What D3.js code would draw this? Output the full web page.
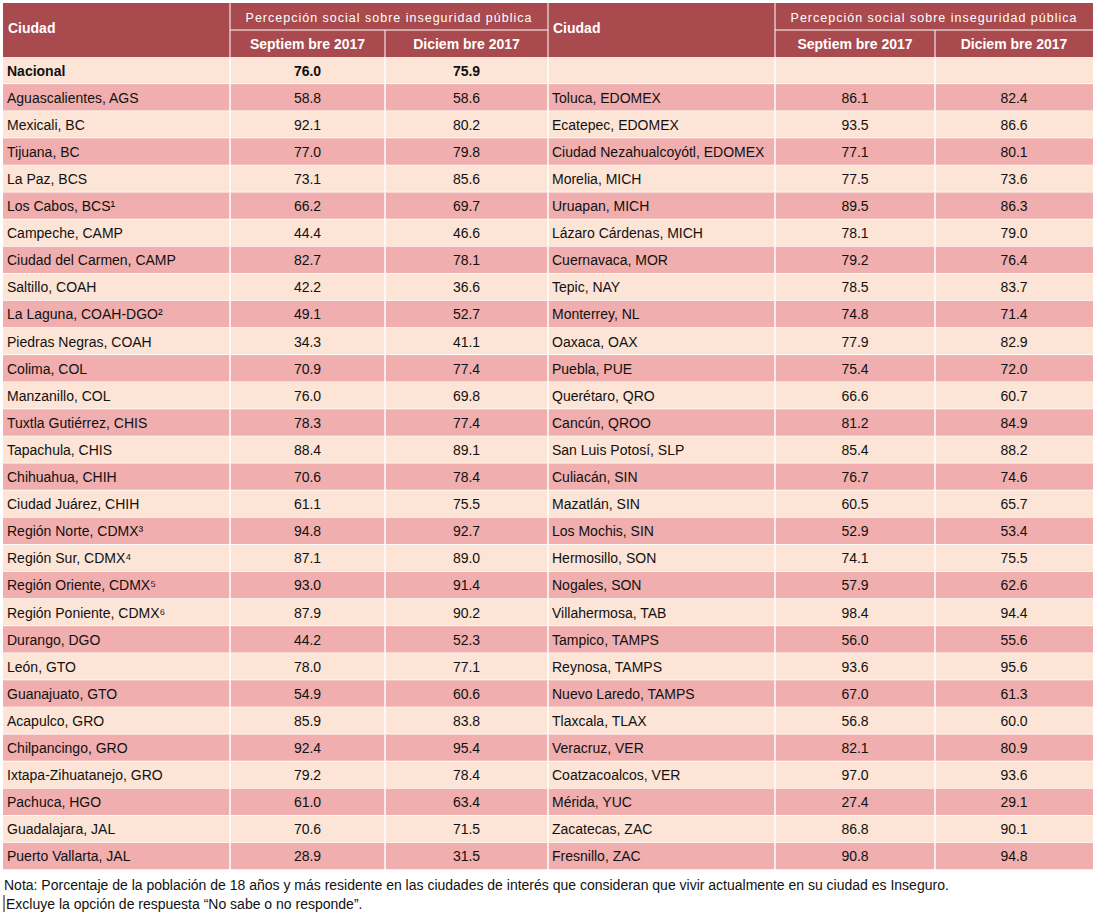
<!DOCTYPE html>
<html><head><meta charset="utf-8">
<script src="https://cdn.jsdelivr.net/npm/d3@7"></script>
<style>body{margin:0;background:#fff;font-family:Arial,"Liberation Sans",sans-serif;}</style>
</head><body><svg id="t" width="1105" height="915"></svg>
<script>
var left = ["Aguascalientes, AGS","Mexicali, BC","Tijuana, BC","La Paz, BCS","Los Cabos, BCS¹","Campeche, CAMP","Ciudad del Carmen, CAMP","Saltillo, COAH","La Laguna, COAH-DGO²","Piedras Negras, COAH","Colima, COL","Manzanillo, COL","Tuxtla Gutiérrez, CHIS","Tapachula, CHIS","Chihuahua, CHIH","Ciudad Juárez, CHIH","Región Norte, CDMX³","Región Sur, CDMX⁴","Región Oriente, CDMX⁵","Región Poniente, CDMX⁶","Durango, DGO","León, GTO","Guanajuato, GTO","Acapulco, GRO","Chilpancingo, GRO","Ixtapa-Zihuatanejo, GRO","Pachuca, HGO","Guadalajara, JAL","Puerto Vallarta, JAL"];
var leftSep = [58.8,92.1,77.0,73.1,66.2,44.4,82.7,42.2,49.1,34.3,70.9,76.0,78.3,88.4,70.6,61.1,94.8,87.1,93.0,87.9,44.2,78.0,54.9,85.9,92.4,79.2,61.0,70.6,28.9];
var leftDic = [58.6,80.2,79.8,85.6,69.7,46.6,78.1,36.6,52.7,41.1,77.4,69.8,77.4,89.1,78.4,75.5,92.7,89.0,91.4,90.2,52.3,77.1,60.6,83.8,95.4,78.4,63.4,71.5,31.5];
var right = ["Toluca, EDOMEX","Ecatepec, EDOMEX","Ciudad Nezahualcoyótl, EDOMEX","Morelia, MICH","Uruapan, MICH","Lázaro Cárdenas, MICH","Cuernavaca, MOR","Tepic, NAY","Monterrey, NL","Oaxaca, OAX","Puebla, PUE","Querétaro, QRO","Cancún, QROO","San Luis Potosí, SLP","Culiacán, SIN","Mazatlán, SIN","Los Mochis, SIN","Hermosillo, SON","Nogales, SON","Villahermosa, TAB","Tampico, TAMPS","Reynosa, TAMPS","Nuevo Laredo, TAMPS","Tlaxcala, TLAX","Veracruz, VER","Coatzacoalcos, VER","Mérida, YUC","Zacatecas, ZAC","Fresnillo, ZAC"];
var rightSep = [86.1,93.5,77.1,77.5,89.5,78.1,79.2,78.5,74.8,77.9,75.4,66.6,81.2,85.4,76.7,60.5,52.9,74.1,57.9,98.4,56.0,93.6,67.0,56.8,82.1,97.0,27.4,86.8,90.8];
var rightDic = [82.4,86.6,80.1,73.6,86.3,79.0,76.4,83.7,71.4,82.9,72.0,60.7,84.9,88.2,74.6,65.7,53.4,75.5,62.6,94.4,55.6,95.6,61.3,60.0,80.9,93.6,29.1,90.1,94.8];
var nacional = [76.0, 75.9];
var header = ["Ciudad","Percepción social sobre inseguridad pública","Septiem bre 2017","Diciem bre 2017"];

var svg = d3.select("#t");
var colX = [3,230,385,548,775,935,1093];
var y = d3.scaleLinear().domain([0,30]).range([57,870]);
var hdr = "#A94A4E", pink = "#F0AEAE", light = "#FCE4D6";

// header
svg.append("rect").attr("x",3).attr("y",3).attr("width",1090).attr("height",54).attr("fill",hdr);
[0,3].forEach(function(o){
  svg.append("text").attr("x",colX[o]+5).attr("y",33).attr("fill","#fff").attr("font-weight","bold").attr("font-size",14).text(header[0]);
  svg.append("text").attr("x",(colX[o+1]+colX[o+3])/2).attr("y",22).attr("text-anchor","middle").attr("fill","#fff").attr("font-size",12.5).attr("letter-spacing",1).text(header[1]);
  svg.append("line").attr("x1",colX[o+1]).attr("x2",colX[o+3]).attr("y1",30).attr("y2",30).attr("stroke","#fff");
  svg.append("line").attr("x1",colX[o+2]).attr("x2",colX[o+2]).attr("y1",30).attr("y2",57).attr("stroke","#fff");
  svg.append("text").attr("x",(colX[o+1]+colX[o+2])/2).attr("y",49).attr("text-anchor","middle").attr("fill","#fff").attr("font-weight","bold").attr("font-size",14).text(header[2]);
  svg.append("text").attr("x",(colX[o+2]+colX[o+3])/2).attr("y",49).attr("text-anchor","middle").attr("fill","#fff").attr("font-weight","bold").attr("font-size",14).text(header[3]);
});
svg.append("line").attr("x1",548).attr("x2",548).attr("y1",3).attr("y2",57).attr("stroke","#fff");
svg.append("line").attr("x1",230).attr("x2",230).attr("y1",3).attr("y2",57).attr("stroke","#fff");
svg.append("line").attr("x1",775).attr("x2",775).attr("y1",3).attr("y2",57).attr("stroke","#fff");

// rows: index 0 = Nacional
var rows = [{l:"Nacional",ls:nacional[0],ld:nacional[1],r:"",rs:null,rd:null,bold:true}];
left.forEach(function(c,i){ rows.push({l:c,ls:leftSep[i],ld:leftDic[i],r:right[i],rs:rightSep[i],rd:rightDic[i]}); });

var g = svg.selectAll("g.row").data(rows).enter().append("g").attr("class","row");
g.append("rect").attr("x",3).attr("width",1090)
  .attr("y",function(d,i){return y(i);}).attr("height",function(d,i){return y(i+1)-y(i);})
  .attr("fill",function(d,i){return i%2 ? pink : light;});
colX.slice(1,6).forEach(function(x){
  g.append("line").attr("x1",x).attr("x2",x).attr("y1",function(d,i){return y(i);}).attr("y2",function(d,i){return y(i+1);}).attr("stroke","#fff").attr("stroke-width",1.5);
});
g.append("line").attr("x1",3).attr("x2",1093).attr("y1",function(d,i){return y(i+1);}).attr("y2",function(d,i){return y(i+1);}).attr("stroke","#fff").attr("stroke-width",1.5);
var fmt = d3.format(".1f");
function cell(key,x,anchor){
  g.append("text").attr("x",x).attr("y",function(d,i){return (y(i)+y(i+1))/2+5;})
   .attr("text-anchor",anchor).attr("font-size",14).attr("fill","#111")
   .attr("font-weight",function(d){return d.bold?"bold":null;})
   .text(function(d){ var v=d[key]; return v==null?"":(typeof v==="number"?fmt(v):v); });
}
cell("l",7,"start"); cell("ls",(colX[1]+colX[2])/2,"middle"); cell("ld",(colX[2]+colX[3])/2,"middle");
cell("r",552,"start"); cell("rs",(colX[4]+colX[5])/2,"middle"); cell("rd",(colX[5]+colX[6])/2,"middle");

svg.append("text").attr("x",4).attr("y",890).attr("font-size",14).attr("fill","#111").text("Nota: Porcentaje de la población de 18 años y más residente en las ciudades de interés que consideran que vivir actualmente en su ciudad es Inseguro.");
svg.append("text").attr("x",6).attr("y",909).attr("font-size",14).attr("fill","#111").text("Excluye la opción de respuesta “No sabe o no responde”.");
svg.append("line").attr("x1",4).attr("x2",4).attr("y1",895).attr("y2",912).attr("stroke","#111");
</script></body></html>
